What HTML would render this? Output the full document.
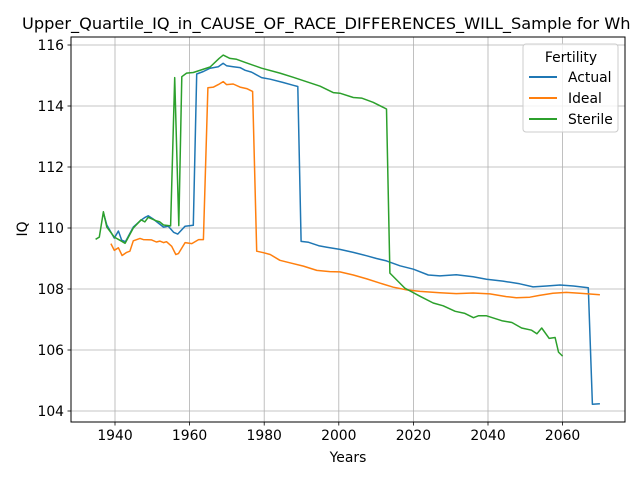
<!DOCTYPE html>
<html><head><meta charset="utf-8"><style>
body{margin:0;background:#fff;}
svg text{font-family:"DejaVu Sans","Liberation Sans",sans-serif;fill:#000;}
</style></head><body>
<svg id="chart" width="640" height="480" viewBox="0 0 640 480" xmlns="http://www.w3.org/2000/svg">
<rect width="640" height="480" fill="#fff"/>
<text x="22" y="29" font-size="16.2">Upper_Quartile_IQ_in_CAUSE_OF_RACE_DIFFERENCES_WILL_Sample for Wh</text>
<g id="grid"></g>
<g id="series"></g>
<rect x="71" y="37" width="554" height="385" fill="none" stroke="#000" stroke-width="1"/>
<g id="ticks"></g>
<text x="348" y="462" font-size="13.9" text-anchor="middle">Years</text>
<text x="27" y="229" font-size="13.9" text-anchor="middle" transform="rotate(-90 27 229)">IQ</text>
<g id="legend">
<rect x="523" y="44" width="95" height="88" rx="3" fill="#fff" fill-opacity="0.8" stroke="#ccc"/>
<text x="571" y="62" font-size="13.9" text-anchor="middle">Fertility</text>
<line x1="529" y1="77" x2="557" y2="77" stroke="#1f77b4" stroke-width="2"/>
<text x="568" y="82" font-size="13.9">Actual</text>
<line x1="529" y1="98" x2="557" y2="98" stroke="#ff7f0e" stroke-width="2"/>
<text x="568" y="103" font-size="13.9">Ideal</text>
<line x1="529" y1="119" x2="557" y2="119" stroke="#2ca02c" stroke-width="2"/>
<text x="568" y="124" font-size="13.9">Sterile</text>
</g>
</svg>
<script>
const xTicks = [1940, 1960, 1980, 2000, 2020, 2040, 2060];
const yTicks = [104, 106, 108, 110, 112, 114, 116];
const actualYears = [1936.9,1937.8,1939.8,1940.9,1941.8,1942.8,1944.9,1946.9,1948.1,1948.9,1950.2,1953,1954.3,1955.7,1956.8,1958.8,1961,1961.9,1963.7,1965.5,1967.7,1969,1969.9,1971.7,1973.5,1974.9,1976.6,1979.3,1981.6,1985.1,1987.8,1989,1989.9,1991.9,1994.6,1996.8,2000.3,2003.9,2007.5,2010.1,2012.8,2016.4,2020,2024,2027.1,2031.5,2036,2039.6,2044,2048.5,2052.1,2055.7,2059.3,2062.9,2066.9,2068,2070];
const actualValues = [110.5,110.1,109.67,109.9,109.6,109.55,110.03,110.25,110.35,110.4,110.3,110.03,110.06,109.86,109.8,110.06,110.09,115.05,115.13,115.24,115.29,115.4,115.32,115.29,115.26,115.17,115.11,114.93,114.88,114.77,114.68,114.64,109.56,109.53,109.42,109.37,109.3,109.2,109.09,109.0,108.92,108.76,108.65,108.46,108.43,108.47,108.4,108.32,108.26,108.17,108.07,108.1,108.13,108.1,108.04,104.22,104.24];
const idealYears = [1938.9,1939.8,1940.9,1941.9,1943.1,1944,1944.9,1946.7,1947.6,1949.8,1951.1,1952,1953,1953.8,1955.2,1956.3,1957,1958.8,1960.6,1962.4,1963.7,1964.9,1966.4,1967.7,1969,1969.9,1971.7,1973.5,1975.3,1976.9,1978,1979.8,1981.6,1984.2,1986.9,1990.5,1994.1,1997.6,2000.3,2003.9,2007.5,2011.1,2014.6,2018.2,2021.8,2027.1,2031.5,2036,2040.5,2044.9,2047.6,2051.2,2053.8,2057.4,2061,2064.6,2070];
const idealValues = [109.49,109.27,109.35,109.1,109.2,109.24,109.58,109.66,109.62,109.61,109.54,109.57,109.52,109.55,109.4,109.13,109.16,109.52,109.49,109.62,109.62,114.6,114.62,114.7,114.8,114.7,114.72,114.62,114.57,114.48,109.24,109.19,109.13,108.94,108.86,108.75,108.61,108.57,108.56,108.46,108.33,108.19,108.06,107.97,107.92,107.88,107.85,107.87,107.84,107.75,107.71,107.73,107.79,107.86,107.89,107.86,107.81];
const sterileYears = [1934.8,1935.8,1936.9,1937.8,1939.8,1941.3,1942.7,1944.9,1947,1948,1948.9,1951,1952,1953,1954.9,1956,1957.1,1957.9,1959.2,1961,1965.5,1967.9,1969,1970.8,1972.6,1974.9,1979.3,1984.2,1987.8,1995,1998.5,2000.3,2003.9,2006.1,2009.2,2012.8,2013.7,2017.7,2021.8,2025.3,2028,2031.2,2033.8,2036.1,2037.4,2039.6,2043.7,2046.4,2049,2051.7,2053.1,2054.4,2056.4,2058,2058.9,2060];
const sterileValues = [109.63,109.7,110.53,110.03,109.7,109.6,109.5,110.0,110.27,110.2,110.35,110.24,110.2,110.1,110.07,114.93,110.08,114.96,115.08,115.1,115.28,115.56,115.67,115.56,115.53,115.43,115.24,115.08,114.94,114.65,114.44,114.42,114.28,114.26,114.12,113.9,108.52,108.03,107.76,107.54,107.45,107.27,107.2,107.06,107.12,107.12,106.96,106.9,106.72,106.65,106.53,106.72,106.38,106.41,105.93,105.8];

const NS = "http://www.w3.org/2000/svg";
function xScale(yr){ return 115 + (yr - 1940) * 3.73; }
function yScale(v){ return 411 - (v - 104) * 30.5; }
function mk(tag, attrs, parent){ const e = document.createElementNS(NS, tag); for (const k in attrs) e.setAttribute(k, attrs[k]); parent.appendChild(e); return e; }

const grid = document.getElementById('grid');
const ticks = document.getElementById('ticks');
xTicks.forEach(t => {
  const x = xScale(t);
  const gl = mk('line', {x1:x, y1:37, x2:x, y2:422, stroke:'#b0b0b0', 'stroke-width':0.8}, grid);
  
  
  mk('line', {x1:x, y1:422, x2:x, y2:425.5, stroke:'#000', 'stroke-width':0.8}, ticks);
  const tx = mk('text', {x:x, y:440, 'font-size':13.9, 'text-anchor':'middle'}, ticks);
  tx.textContent = t;
  
  
});
yTicks.forEach(t => {
  const y = yScale(t);
  const gl = mk('line', {x1:71, y1:y, x2:625, y2:y, stroke:'#b0b0b0', 'stroke-width':0.8}, grid);
  
  
  mk('line', {x1:67.5, y1:y, x2:71, y2:y, stroke:'#000', 'stroke-width':0.8}, ticks);
  const tx = mk('text', {x:64, y:y + 5, 'font-size':13.9, 'text-anchor':'end'}, ticks);
  tx.textContent = t;
  
  
});
const series = document.getElementById('series');
function drawLine(xs, vs, color, name){
  const d = xs.map((x, i) => (i ? 'L' : 'M') + xScale(x).toFixed(1) + ' ' + yScale(vs[i]).toFixed(1)).join(' ');
  const p = mk('path', {d:d, fill:'none', stroke:color, 'stroke-width':1.5, 'stroke-linejoin':'round'}, series);
  
  
}
drawLine(actualYears, actualValues, '#1f77b4', 'actual-line');
drawLine(idealYears, idealValues, '#ff7f0e', 'ideal-line');
drawLine(sterileYears, sterileValues, '#2ca02c', 'sterile-line');
</script>
</body></html>
